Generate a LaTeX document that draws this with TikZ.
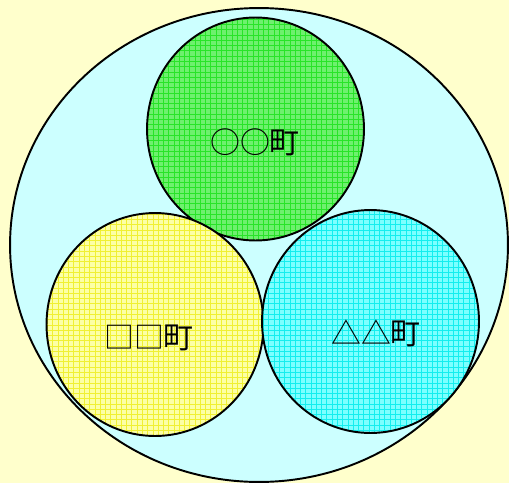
\documentclass[tikz,border=0pt]{standalone}
\usepackage{fontspec}
\newfontfamily\cjk{Noto Sans CJK JP}
\usetikzlibrary{shapes.geometric, patterns, positioning}
\definecolor{BgYellow}{RGB}{255,255,204}
\definecolor{AreaCyan}{RGB}{204,255,255}
\definecolor{TownGreen}{RGB}{110,240,110}
\definecolor{TownYellow}{RGB}{252,255,165}
\definecolor{TownCyan}{RGB}{125,255,255}
\definecolor{LineGreen}{RGB}{40,228,40}
\definecolor{LineYellow}{RGB}{240,240,50}
\definecolor{LineCyan}{RGB}{20,238,238}

\tikzset{
  town/.style={ellipse, draw=black, line width=1.1pt, inner sep=0pt,
    minimum width=4.34cm, minimum height=4.46cm},
  townname/.style={font=\cjk\fontsize{17pt}{19pt}\selectfont, inner sep=1pt}
}

\begin{document}
\begin{tikzpicture}[x=0.02cm, y=-0.02cm]
% background and whole area
\fill[BgYellow] (0,0) rectangle (509,483);
\node[ellipse, draw=black, line width=1.1pt, fill=AreaCyan, inner sep=0pt,
  minimum width=9.96cm, minimum height=9.48cm] (area) at (259,245) {};

% three towns
\node[town, preaction={fill=TownGreen}, pattern=grid,
  pattern color=LineGreen] (townA) at (255.5,129) {};
\node[town, preaction={fill=TownYellow}, pattern=grid,
  pattern color=LineYellow] (townB) at (155,324.5) {};
\node[town, preaction={fill=TownCyan}, pattern=grid,
  pattern color=LineCyan] (townC) at (370.5,321.5) {};

% names
\node[townname] (nameA) at (255,142) {○○町};
\node[townname] (nameB) at (149,338) {□□町};
\node[townname] (nameC) at (376,333) {△△町};
\end{tikzpicture}
\end{document}
